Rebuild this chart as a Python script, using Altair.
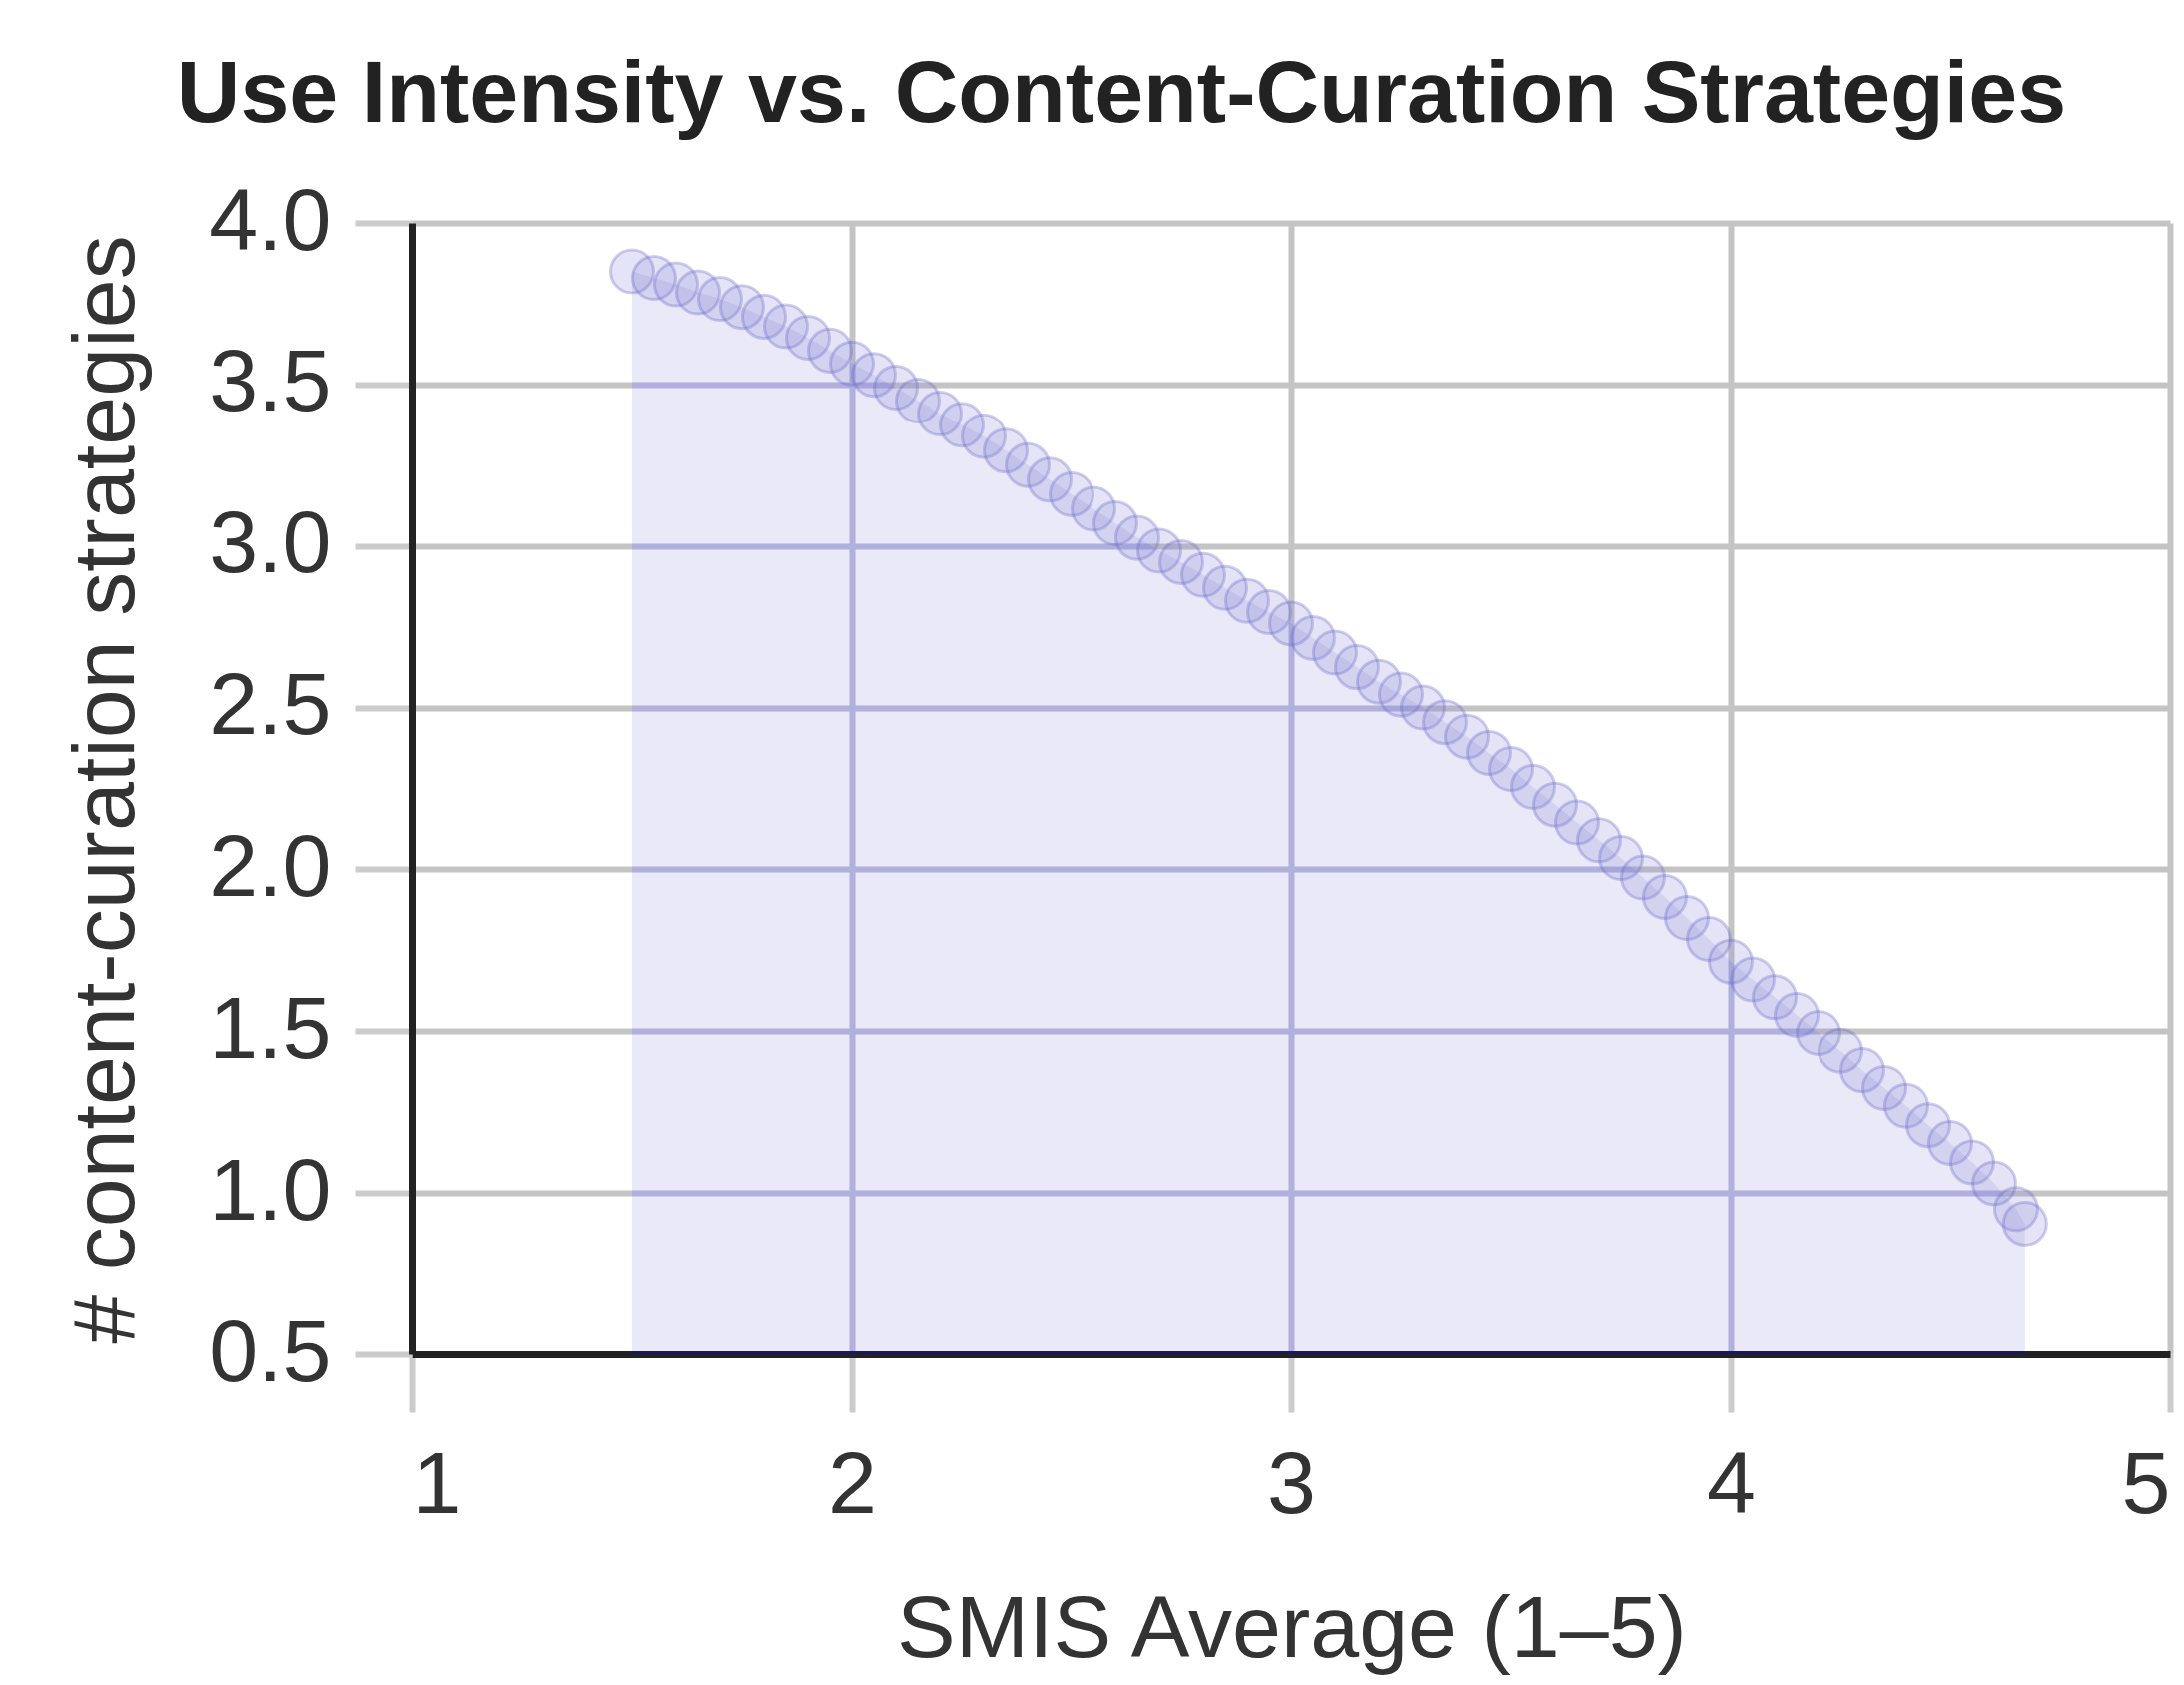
import altair as alt
import pandas as pd

# SMIS average (x) and number of content-curation strategies (y)
smis = [1.50, 1.55, 1.60, 1.65, 1.70, 1.75, 1.80, 1.85, 1.90, 1.95,
        2.00, 2.05, 2.10, 2.15, 2.20, 2.25, 2.30, 2.35, 2.40, 2.45,
        2.50, 2.55, 2.60, 2.65, 2.70, 2.75, 2.80, 2.85, 2.90, 2.95,
        3.00, 3.05, 3.10, 3.15, 3.20, 3.25, 3.30, 3.35, 3.40, 3.45,
        3.50, 3.55, 3.60, 3.65, 3.70, 3.75, 3.80, 3.85, 3.90, 3.95,
        4.00, 4.05, 4.10, 4.15, 4.20, 4.25, 4.30, 4.35, 4.40, 4.45,
        4.50, 4.55, 4.60, 4.65, 4.67]
strategies = [3.85, 3.83, 3.81, 3.785, 3.765, 3.74, 3.71, 3.68, 3.645, 3.605,
              3.565, 3.53, 3.49, 3.45, 3.41, 3.375, 3.34, 3.295, 3.25, 3.205,
              3.16, 3.115, 3.07, 3.025, 2.985, 2.95, 2.91, 2.87, 2.83, 2.795,
              2.76, 2.715, 2.67, 2.625, 2.58, 2.54, 2.50, 2.455, 2.41, 2.36,
              2.31, 2.255, 2.20, 2.145, 2.09, 2.035, 1.975, 1.915, 1.85, 1.785,
              1.715, 1.66, 1.605, 1.55, 1.495, 1.44, 1.38, 1.325, 1.27, 1.21,
              1.155, 1.095, 1.03, 0.95, 0.905]

x_ticks = [1, 2, 3, 4, 5]
y_ticks = [0.5, 1.0, 1.5, 2.0, 2.5, 3.0, 3.5, 4.0]

df = pd.DataFrame({"smis": smis, "strategies": strategies})

FONT = "Liberation Sans"

x_enc = alt.X(
    "smis:Q",
    scale=alt.Scale(domain=[1, 5], nice=False, zero=False),
    axis=alt.Axis(
        title="SMIS Average (1–5)",
        values=x_ticks,
        format="d",
        tickSize=58,
        labelPadding=30,
        titleX=880,
        titleY=302,
        titleAlign="center",
        titleBaseline="alphabetic",
    ),
)
y_enc = alt.Y(
    "strategies:Q",
    scale=alt.Scale(domain=[0.5, 4.0], nice=False, zero=False),
    axis=alt.Axis(
        title="# content-curation strategies",
        values=y_ticks,
        format=".1f",
        tickSize=58,
        labelPadding=24,
        titleX=-280,
        titleY=567,
        titleAngle=270,
        titleAlign="center",
        titleBaseline="alphabetic",
    ),
)

base = alt.Chart(df)

area_fill = base.mark_area(color="#eaeaf0", blend="multiply").encode(
    x=x_enc, y=y_enc, y2=alt.datum(0.5)
)
area_tint = base.mark_area(color="#5b5bdc", blend="color", opacity=0.5).encode(
    x="smis:Q", y="strategies:Q", y2=alt.datum(0.5)
)
points = base.mark_point(
    shape="circle",
    filled=True,
    fill="#8484d8",
    fillOpacity=0.22,
    stroke="#6a6acc",
    strokeOpacity=0.33,
    strokeWidth=3,
    size=1850,
).encode(x="smis:Q", y="strategies:Q")

chart = (
    alt.layer(area_fill, area_tint, points)
    .properties(
        width=1760,
        height=1133,
        autosize=alt.AutoSizeParams(type="none"),
        padding={"left": 405, "top": 215, "right": 6, "bottom": 323},
        title=alt.TitleParams(
            "Use Intensity vs. Content-Curation Strategies",
            font=FONT,
            fontSize=88,
            fontWeight="bold",
            color="#222222",
            anchor="middle",
            dx=-170,
            offset=39,
        ),
        background="white",
    )
    .configure_view(strokeWidth=0)
    .configure_axis(
        labelFont=FONT,
        labelFontSize=88,
        labelColor="#333333",
        titleFont=FONT,
        titleFontSize=88,
        titleFontWeight="normal",
        titleColor="#333333",
        gridColor="#c4c4c4",
        gridWidth=6,
        tickColor="#cccccc",
        tickWidth=6,
        domainColor="#222222",
        domainWidth=7,
    )
)

chart.save("out.html", embed_options={"renderer": "svg", "actions": False})
